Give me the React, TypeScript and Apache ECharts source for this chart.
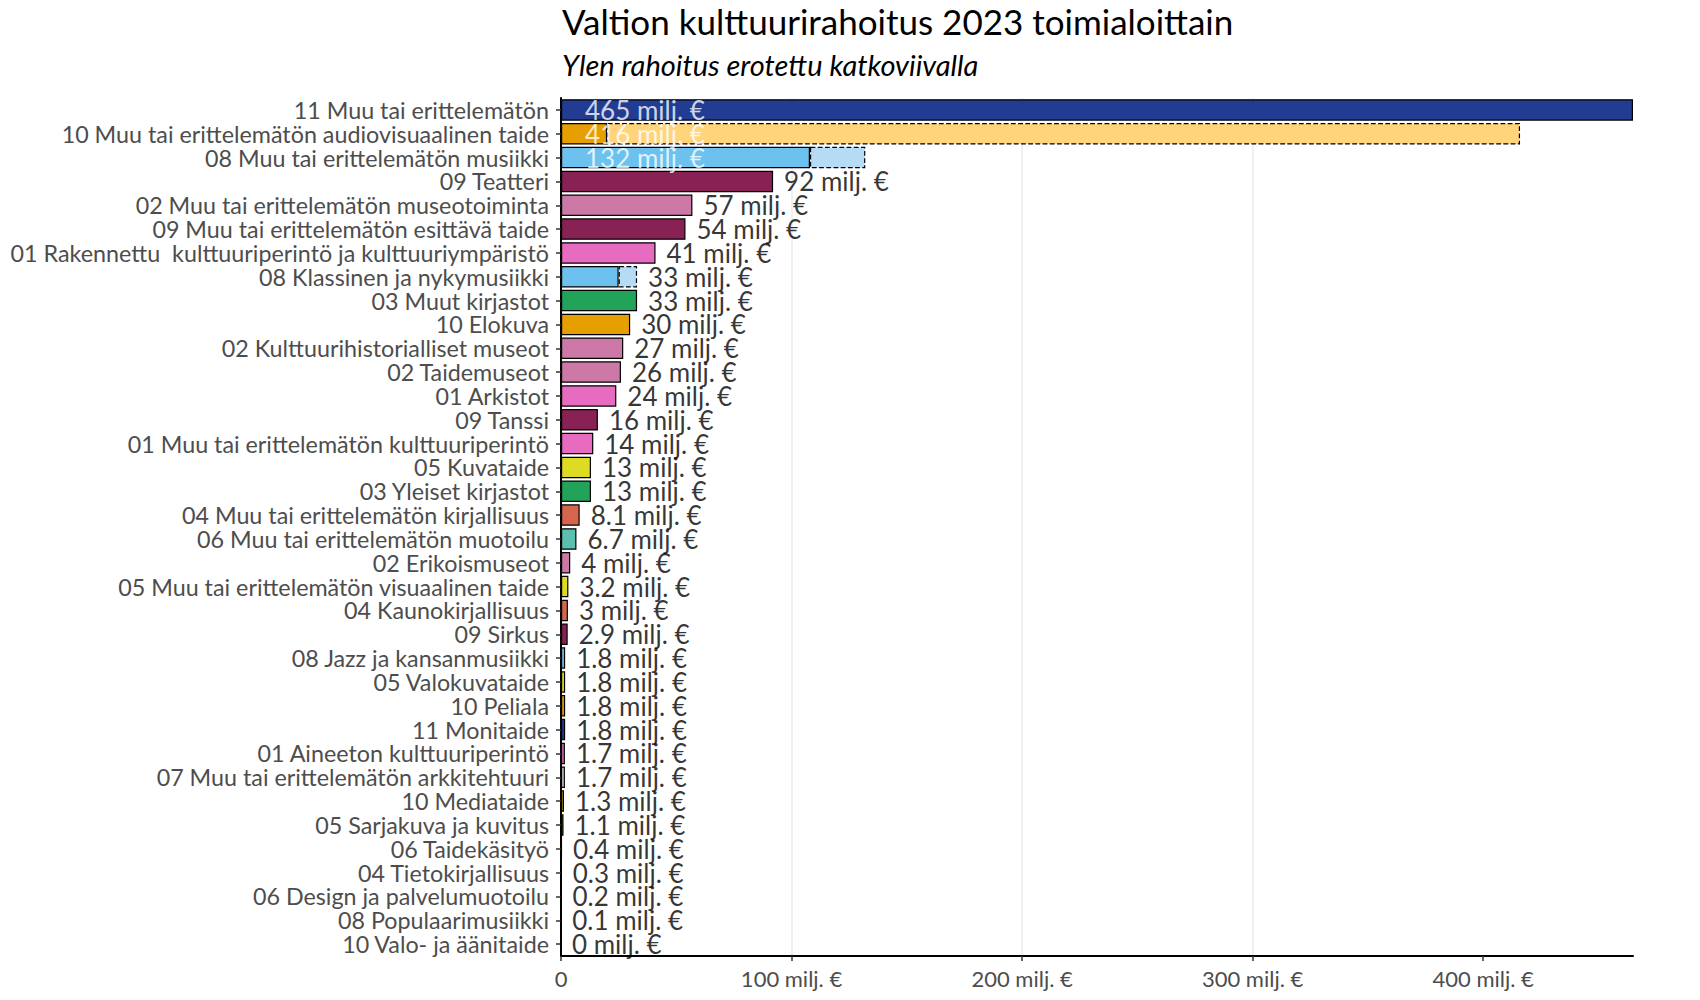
import React, { useEffect, useRef } from "react";
import * as echarts from "echarts";

const categories = [
  "11 Muu tai erittelemätön",
  "10 Muu tai erittelemätön audiovisuaalinen taide",
  "08 Muu tai erittelemätön musiikki",
  "09 Teatteri",
  "02 Muu tai erittelemätön museotoiminta",
  "09 Muu tai erittelemätön esittävä taide",
  "01 Rakennettu  kulttuuriperintö ja kulttuuriympäristö",
  "08 Klassinen ja nykymusiikki",
  "03 Muut kirjastot",
  "10 Elokuva",
  "02 Kulttuurihistorialliset museot",
  "02 Taidemuseot",
  "01 Arkistot",
  "09 Tanssi",
  "01 Muu tai erittelemätön kulttuuriperintö",
  "05 Kuvataide",
  "03 Yleiset kirjastot",
  "04 Muu tai erittelemätön kirjallisuus",
  "06 Muu tai erittelemätön muotoilu",
  "02 Erikoismuseot",
  "05 Muu tai erittelemätön visuaalinen taide",
  "04 Kaunokirjallisuus",
  "09 Sirkus",
  "08 Jazz ja kansanmusiikki",
  "05 Valokuvataide",
  "10 Peliala",
  "11 Monitaide",
  "01 Aineeton kulttuuriperintö",
  "07 Muu tai erittelemätön arkkitehtuuri",
  "10 Mediataide",
  "05 Sarjakuva ja kuvitus",
  "06 Taidekäsityö",
  "04 Tietokirjallisuus",
  "06 Design ja palvelumuotoilu",
  "08 Populaarimusiikki",
  "10 Valo- ja äänitaide",
];

// total funding (milj. €)
const totals = [
  465, 416, 132, 92, 57, 54, 41, 33, 33, 30, 27, 26, 24, 16, 14, 13, 13, 8.1,
  6.7, 4, 3.2, 3, 2.9, 1.8, 1.8, 1.8, 1.8, 1.7, 1.7, 1.3, 1.1, 0.4, 0.3, 0.2,
  0.1, 0,
];

// Yle share of funding (milj. €), drawn dashed
const yleValues = [
  0, 396, 24, 0, 0, 0, 0, 8, 0, 0, 0, 0, 0, 0, 0, 0, 0, 0, 0, 0, 0, 0, 0, 0, 0,
  0, 0, 0, 0, 0, 0, 0, 0, 0, 0, 0,
];

const xTickValues = [0, 100, 200, 300, 400];
const xTickLabels = ["0", "100 milj. €", "200 milj. €", "300 milj. €", "400 milj. €"];

const titleText = "Valtion kulttuurirahoitus 2023 toimialoittain";
const subtitleText = "Ylen rahoitus erotettu katkoviivalla";

const insideLabelCount = 3;

const solidColors: Record<string, string> = {
  "01": "#E76BBE",
  "02": "#CC79A7",
  "03": "#22A35A",
  "04": "#D6654F",
  "05": "#DEDC22",
  "06": "#5CBFAF",
  "07": "#D6D0D0",
  "08": "#6DC1EE",
  "09": "#882255",
  "10": "#E69F00",
  "11": "#223B93",
};
const lightColors: Record<string, string> = {
  "08": "#B5DCF4",
  "10": "#FFD47A",
};

const FONT = "Lato";

export default function App() {
  const ref = useRef<HTMLDivElement>(null);
  useEffect(() => {
    if (!ref.current) return;
    const chart = echarts.init(ref.current, undefined, { renderer: "svg" });

    const solidData = categories.map((c, i) => {
      const code = c.slice(0, 2);
      return {
        value: Math.round((totals[i] - yleValues[i]) * 100) / 100,
        itemStyle: { color: solidColors[code] },
      };
    });
    const yleData = categories.map((c, i) => {
      const code = c.slice(0, 2);
      return {
        value: yleValues[i],
        itemStyle: {
          color: lightColors[code] || solidColors[code],
          borderColor: yleValues[i] > 0 ? "#000" : "transparent",
          borderWidth: yleValues[i] > 0 ? 1.2 : 0,
          borderType: "dashed",
        },
      };
    });
    const labelData = categories.map((c, i) => {
      const inside = i < insideLabelCount;
      return {
        value: [inside ? 0 : totals[i], c],
        label: {
          show: true,
          position: "right",
          distance: inside ? 24 : 11,
          color: inside ? "#fff" : "#000",
          formatter: `${totals[i]} milj. €`,
        },
      };
    });

    chart.setOption({
      animation: false,
      textStyle: { fontFamily: FONT },
      title: {
        text: titleText,
        subtext: subtitleText,
        left: 557,
        top: -2,
        itemGap: 12,
        textStyle: { fontFamily: FONT, fontSize: 35, fontWeight: "normal", color: "#000" },
        subtextStyle: {
          fontFamily: FONT,
          fontSize: 29,
          fontStyle: "italic",
          color: "#000",
        },
      },
      grid: { left: 561, right: 67, top: 98, bottom: 44, containLabel: false },
      xAxis: {
        type: "value",
        min: 0,
        max: 465,
        interval: 100,
        axisLine: { show: true, lineStyle: { color: "#000", width: 2 } },
        axisTick: {
          show: true,
          length: 5,
          lineStyle: { color: "#333", width: 1.5 },
          customValues: xTickValues,
        },
        axisLabel: {
          color: "#4D4D4D",
          fontSize: 22,
          fontFamily: FONT,
          margin: 11,
          customValues: xTickValues,
          formatter: (v: number) => xTickLabels[xTickValues.indexOf(v)] ?? "",
        },
        splitLine: {
          show: true,
          showMinLine: false,
          showMaxLine: false,
          lineStyle: { color: "#EBEBEB", width: 1.5 },
        },
      },
      yAxis: {
        type: "category",
        data: categories,
        inverse: true,
        axisLine: { show: true, lineStyle: { color: "#000", width: 2 } },
        axisTick: { show: true, length: 5, alignWithLabel: true, lineStyle: { color: "#333", width: 1.5 } },
        axisLabel: {
          color: "#4D4D4D",
          fontSize: 23.3,
          fontFamily: FONT,
          margin: 12,
          interval: 0,
        },
        splitLine: { show: false },
      },
      series: [
        {
          type: "bar",
          name: "solid",
          stack: "a",
          barWidth: "90%",
          data: solidData,
          itemStyle: { borderColor: "#000", borderWidth: 1.2 },
          silent: true,
        },
        {
          type: "bar",
          name: "yle",
          stack: "a",
          barWidth: "90%",
          data: yleData,
          silent: true,
        },
        {
          type: "scatter",
          name: "labels",
          symbolSize: 0,
          data: labelData,
          label: { fontSize: 26, fontFamily: FONT },
          silent: true,
          z: 10,
        },
      ],
    });
    return () => chart.dispose();
  }, []);
  return <div ref={ref} style={{ width: 1700, height: 1000, margin: -8 }} />;
}
